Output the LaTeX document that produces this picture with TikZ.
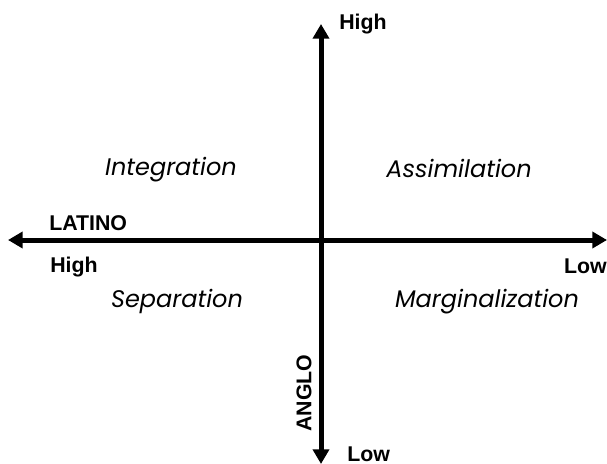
\documentclass[tikz,border=0pt]{standalone}
\usepackage{fontspec}
\setmainfont{Liberation Sans}
\newfontfamily\quadfont{Poppins}
\usetikzlibrary{arrows.meta}

\tikzset{
  axis/.style={line width=3.75pt, {Triangle[length=11pt,width=12pt]}-{Triangle[length=11pt,width=12pt]}},
  axislabel/.style={font=\fontsize{16}{18}\selectfont\bfseries, inner sep=0pt},
  quadlabel/.style={font=\quadfont\fontsize{18}{20}\selectfont\itshape, inner sep=0pt, anchor=base}
}

\begin{document}
\begin{tikzpicture}[x=0.75pt, y=-0.75pt]
        \useasboundingbox (0,0) rectangle (607,464);

        % axis ends
        \coordinate (W) at (8,240);
        \coordinate (E) at (607,240);
        \coordinate (N) at (321,24);
        \coordinate (S) at (321,464);

        % LATINO (horizontal)
        \draw[axis] (W) -- (E);
        % ANGLO (vertical)
        \draw[axis] (N) -- (S);

        % axis labels
        \node[axislabel, anchor=base west] (latino) at (49,230) {LATINO};
        \node[axislabel, anchor=base west] (latinohigh) at (50,272) {High};
        \node[axislabel, anchor=base east] (latinolow) at (607,273) {Low};
        \node[axislabel, anchor=base west] (anglohigh) at (339,29) {High};
        \node[axislabel, anchor=base west] (anglolow) at (347,461) {Low};
        \node[axislabel, rotate=90] (anglo) at (304,393) {ANGLO};

        % quadrants
        \node[quadlabel] (integ) at (171,175) {Integration};
        \node[quadlabel] (assim) at (459,177) {Assimilation};
        \node[quadlabel] (separ) at (177,307) {Separation};
        \node[quadlabel] (margin) at (487,307) {Marginalization};
    \end{tikzpicture}
\end{document}
